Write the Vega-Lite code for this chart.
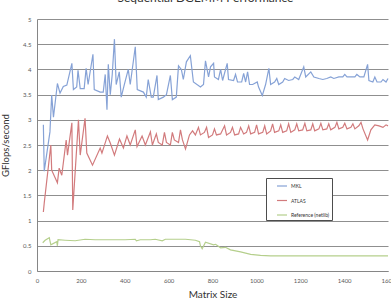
{
  "$schema": "https://vega.github.io/schema/vega-lite/v6.json",
  "width": 351,
  "height": 252,
  "autosize": {"type": "none"},
  "padding": {"left": 37, "top": 19, "right": 3, "bottom": 31},
  "background": "white",
  "config": {
    "view": {"stroke": null},
    "font": "Lato"
  },
  "title": {
    "text": "Sequential DGEMM Performance",
    "frame": "group",
    "anchor": "middle",
    "orient": "top",
    "offset": 2,
    "baseline": "alphabetic",
    "fontSize": 12,
    "font": "Lato",
    "fontWeight": "normal",
    "color": "#333333",
    "dx": -7
  },
  "data": {
    "values": [
      {"size": 29, "gflops": 2.9, "series": "MKL"},
      {"size": 33, "gflops": 1.98, "series": "MKL"},
      {"size": 59, "gflops": 2.76, "series": "MKL"},
      {"size": 67, "gflops": 3.49, "series": "MKL"},
      {"size": 75, "gflops": 3.05, "series": "MKL"},
      {"size": 93, "gflops": 3.72, "series": "MKL"},
      {"size": 105, "gflops": 3.53, "series": "MKL"},
      {"size": 120, "gflops": 3.66, "series": "MKL"},
      {"size": 136, "gflops": 3.69, "series": "MKL"},
      {"size": 159, "gflops": 4.12, "series": "MKL"},
      {"size": 166, "gflops": 3.6, "series": "MKL"},
      {"size": 181, "gflops": 3.65, "series": "MKL"},
      {"size": 187, "gflops": 3.98, "series": "MKL"},
      {"size": 197, "gflops": 3.62, "series": "MKL"},
      {"size": 215, "gflops": 3.62, "series": "MKL"},
      {"size": 224, "gflops": 4.02, "series": "MKL"},
      {"size": 233, "gflops": 3.7, "series": "MKL"},
      {"size": 255, "gflops": 4.3, "series": "MKL"},
      {"size": 261, "gflops": 3.6, "series": "MKL"},
      {"size": 288, "gflops": 3.55, "series": "MKL"},
      {"size": 302, "gflops": 3.55, "series": "MKL"},
      {"size": 311, "gflops": 3.9, "series": "MKL"},
      {"size": 319, "gflops": 3.2, "series": "MKL"},
      {"size": 325, "gflops": 4.1, "series": "MKL"},
      {"size": 334, "gflops": 3.5, "series": "MKL"},
      {"size": 343, "gflops": 3.9, "series": "MKL"},
      {"size": 353, "gflops": 4.6, "series": "MKL"},
      {"size": 361, "gflops": 3.7, "series": "MKL"},
      {"size": 375, "gflops": 3.95, "series": "MKL"},
      {"size": 384, "gflops": 3.45, "series": "MKL"},
      {"size": 398, "gflops": 3.7, "series": "MKL"},
      {"size": 416, "gflops": 4.0, "series": "MKL"},
      {"size": 425, "gflops": 3.7, "series": "MKL"},
      {"size": 448, "gflops": 4.45, "series": "MKL"},
      {"size": 457, "gflops": 3.6, "series": "MKL"},
      {"size": 485, "gflops": 3.55, "series": "MKL"},
      {"size": 498, "gflops": 3.45, "series": "MKL"},
      {"size": 507, "gflops": 3.8, "series": "MKL"},
      {"size": 521, "gflops": 3.45, "series": "MKL"},
      {"size": 530, "gflops": 3.45, "series": "MKL"},
      {"size": 547, "gflops": 3.88, "series": "MKL"},
      {"size": 553, "gflops": 3.4, "series": "MKL"},
      {"size": 576, "gflops": 3.45, "series": "MKL"},
      {"size": 590, "gflops": 3.5, "series": "MKL"},
      {"size": 608, "gflops": 3.88, "series": "MKL"},
      {"size": 617, "gflops": 3.4, "series": "MKL"},
      {"size": 635, "gflops": 3.45, "series": "MKL"},
      {"size": 645, "gflops": 4.07, "series": "MKL"},
      {"size": 658, "gflops": 4.0, "series": "MKL"},
      {"size": 667, "gflops": 3.8, "series": "MKL"},
      {"size": 681, "gflops": 4.15, "series": "MKL"},
      {"size": 699, "gflops": 4.27, "series": "MKL"},
      {"size": 713, "gflops": 3.75, "series": "MKL"},
      {"size": 745, "gflops": 3.65, "series": "MKL"},
      {"size": 759, "gflops": 3.7, "series": "MKL"},
      {"size": 768, "gflops": 4.17, "series": "MKL"},
      {"size": 782, "gflops": 3.85, "series": "MKL"},
      {"size": 791, "gflops": 4.05, "series": "MKL"},
      {"size": 805, "gflops": 4.12, "series": "MKL"},
      {"size": 809, "gflops": 3.85, "series": "MKL"},
      {"size": 827, "gflops": 3.8, "series": "MKL"},
      {"size": 837, "gflops": 4.0, "series": "MKL"},
      {"size": 846, "gflops": 3.78, "series": "MKL"},
      {"size": 867, "gflops": 4.12, "series": "MKL"},
      {"size": 873, "gflops": 3.8, "series": "MKL"},
      {"size": 896, "gflops": 3.78, "series": "MKL"},
      {"size": 905, "gflops": 3.9, "series": "MKL"},
      {"size": 914, "gflops": 3.75, "series": "MKL"},
      {"size": 933, "gflops": 3.75, "series": "MKL"},
      {"size": 942, "gflops": 3.92, "series": "MKL"},
      {"size": 951, "gflops": 3.75, "series": "MKL"},
      {"size": 960, "gflops": 3.95, "series": "MKL"},
      {"size": 969, "gflops": 3.7, "series": "MKL"},
      {"size": 983, "gflops": 3.7, "series": "MKL"},
      {"size": 1004, "gflops": 3.75, "series": "MKL"},
      {"size": 1010, "gflops": 3.65, "series": "MKL"},
      {"size": 1027, "gflops": 3.48, "series": "MKL"},
      {"size": 1042, "gflops": 3.7, "series": "MKL"},
      {"size": 1057, "gflops": 4.02, "series": "MKL"},
      {"size": 1065, "gflops": 3.7, "series": "MKL"},
      {"size": 1083, "gflops": 3.75, "series": "MKL"},
      {"size": 1093, "gflops": 3.82, "series": "MKL"},
      {"size": 1102, "gflops": 3.7, "series": "MKL"},
      {"size": 1120, "gflops": 3.75, "series": "MKL"},
      {"size": 1129, "gflops": 3.82, "series": "MKL"},
      {"size": 1147, "gflops": 3.78, "series": "MKL"},
      {"size": 1166, "gflops": 3.8, "series": "MKL"},
      {"size": 1175, "gflops": 3.85, "series": "MKL"},
      {"size": 1193, "gflops": 3.8, "series": "MKL"},
      {"size": 1216, "gflops": 4.05, "series": "MKL"},
      {"size": 1225, "gflops": 3.85, "series": "MKL"},
      {"size": 1248, "gflops": 3.95, "series": "MKL"},
      {"size": 1262, "gflops": 3.85, "series": "MKL"},
      {"size": 1285, "gflops": 3.82, "series": "MKL"},
      {"size": 1303, "gflops": 3.8, "series": "MKL"},
      {"size": 1321, "gflops": 3.82, "series": "MKL"},
      {"size": 1339, "gflops": 3.85, "series": "MKL"},
      {"size": 1353, "gflops": 3.82, "series": "MKL"},
      {"size": 1376, "gflops": 3.85, "series": "MKL"},
      {"size": 1394, "gflops": 3.85, "series": "MKL"},
      {"size": 1403, "gflops": 3.9, "series": "MKL"},
      {"size": 1413, "gflops": 3.85, "series": "MKL"},
      {"size": 1431, "gflops": 3.85, "series": "MKL"},
      {"size": 1449, "gflops": 3.85, "series": "MKL"},
      {"size": 1458, "gflops": 3.9, "series": "MKL"},
      {"size": 1472, "gflops": 3.85, "series": "MKL"},
      {"size": 1490, "gflops": 3.85, "series": "MKL"},
      {"size": 1507, "gflops": 4.1, "series": "MKL"},
      {"size": 1513, "gflops": 3.78, "series": "MKL"},
      {"size": 1531, "gflops": 3.75, "series": "MKL"},
      {"size": 1540, "gflops": 3.85, "series": "MKL"},
      {"size": 1550, "gflops": 3.75, "series": "MKL"},
      {"size": 1568, "gflops": 3.75, "series": "MKL"},
      {"size": 1577, "gflops": 3.8, "series": "MKL"},
      {"size": 1591, "gflops": 3.75, "series": "MKL"},
      {"size": 1600, "gflops": 3.82, "series": "MKL"},

      {"size": 29, "gflops": 1.17, "series": "ATLAS"},
      {"size": 33, "gflops": 1.35, "series": "ATLAS"},
      {"size": 63, "gflops": 2.5, "series": "ATLAS"},
      {"size": 67, "gflops": 2.0, "series": "ATLAS"},
      {"size": 93, "gflops": 1.75, "series": "ATLAS"},
      {"size": 101, "gflops": 2.04, "series": "ATLAS"},
      {"size": 113, "gflops": 1.9, "series": "ATLAS"},
      {"size": 133, "gflops": 2.6, "series": "ATLAS"},
      {"size": 139, "gflops": 2.3, "series": "ATLAS"},
      {"size": 159, "gflops": 2.94, "series": "ATLAS"},
      {"size": 163, "gflops": 1.21, "series": "ATLAS"},
      {"size": 189, "gflops": 3.0, "series": "ATLAS"},
      {"size": 197, "gflops": 2.3, "series": "ATLAS"},
      {"size": 219, "gflops": 3.03, "series": "ATLAS"},
      {"size": 227, "gflops": 2.34, "series": "ATLAS"},
      {"size": 253, "gflops": 2.1, "series": "ATLAS"},
      {"size": 288, "gflops": 2.44, "series": "ATLAS"},
      {"size": 296, "gflops": 2.34, "series": "ATLAS"},
      {"size": 321, "gflops": 2.68, "series": "ATLAS"},
      {"size": 334, "gflops": 2.54, "series": "ATLAS"},
      {"size": 353, "gflops": 2.3, "series": "ATLAS"},
      {"size": 376, "gflops": 2.62, "series": "ATLAS"},
      {"size": 394, "gflops": 2.44, "series": "ATLAS"},
      {"size": 410, "gflops": 2.68, "series": "ATLAS"},
      {"size": 425, "gflops": 2.5, "series": "ATLAS"},
      {"size": 448, "gflops": 2.8, "series": "ATLAS"},
      {"size": 456, "gflops": 2.47, "series": "ATLAS"},
      {"size": 479, "gflops": 2.68, "series": "ATLAS"},
      {"size": 494, "gflops": 2.5, "series": "ATLAS"},
      {"size": 517, "gflops": 2.76, "series": "ATLAS"},
      {"size": 526, "gflops": 2.5, "series": "ATLAS"},
      {"size": 544, "gflops": 2.72, "series": "ATLAS"},
      {"size": 553, "gflops": 2.55, "series": "ATLAS"},
      {"size": 571, "gflops": 2.5, "series": "ATLAS"},
      {"size": 581, "gflops": 2.75, "series": "ATLAS"},
      {"size": 590, "gflops": 2.55, "series": "ATLAS"},
      {"size": 608, "gflops": 2.5, "series": "ATLAS"},
      {"size": 617, "gflops": 2.75, "series": "ATLAS"},
      {"size": 626, "gflops": 2.6, "series": "ATLAS"},
      {"size": 645, "gflops": 2.55, "series": "ATLAS"},
      {"size": 654, "gflops": 2.8, "series": "ATLAS"},
      {"size": 663, "gflops": 2.6, "series": "ATLAS"},
      {"size": 677, "gflops": 2.42, "series": "ATLAS"},
      {"size": 695, "gflops": 2.7, "series": "ATLAS"},
      {"size": 709, "gflops": 2.78, "series": "ATLAS"},
      {"size": 722, "gflops": 2.7, "series": "ATLAS"},
      {"size": 736, "gflops": 2.85, "series": "ATLAS"},
      {"size": 745, "gflops": 2.7, "series": "ATLAS"},
      {"size": 763, "gflops": 2.75, "series": "ATLAS"},
      {"size": 773, "gflops": 2.85, "series": "ATLAS"},
      {"size": 782, "gflops": 2.65, "series": "ATLAS"},
      {"size": 800, "gflops": 2.7, "series": "ATLAS"},
      {"size": 809, "gflops": 2.82, "series": "ATLAS"},
      {"size": 818, "gflops": 2.7, "series": "ATLAS"},
      {"size": 837, "gflops": 2.72, "series": "ATLAS"},
      {"size": 855, "gflops": 2.88, "series": "ATLAS"},
      {"size": 864, "gflops": 2.7, "series": "ATLAS"},
      {"size": 882, "gflops": 2.75, "series": "ATLAS"},
      {"size": 891, "gflops": 2.85, "series": "ATLAS"},
      {"size": 901, "gflops": 2.7, "series": "ATLAS"},
      {"size": 919, "gflops": 2.72, "series": "ATLAS"},
      {"size": 928, "gflops": 2.85, "series": "ATLAS"},
      {"size": 942, "gflops": 2.72, "series": "ATLAS"},
      {"size": 955, "gflops": 2.75, "series": "ATLAS"},
      {"size": 965, "gflops": 2.88, "series": "ATLAS"},
      {"size": 974, "gflops": 2.72, "series": "ATLAS"},
      {"size": 992, "gflops": 2.75, "series": "ATLAS"},
      {"size": 1001, "gflops": 2.9, "series": "ATLAS"},
      {"size": 1010, "gflops": 2.72, "series": "ATLAS"},
      {"size": 1029, "gflops": 2.75, "series": "ATLAS"},
      {"size": 1038, "gflops": 2.88, "series": "ATLAS"},
      {"size": 1047, "gflops": 2.72, "series": "ATLAS"},
      {"size": 1065, "gflops": 2.78, "series": "ATLAS"},
      {"size": 1074, "gflops": 2.92, "series": "ATLAS"},
      {"size": 1083, "gflops": 2.75, "series": "ATLAS"},
      {"size": 1102, "gflops": 2.78, "series": "ATLAS"},
      {"size": 1111, "gflops": 2.9, "series": "ATLAS"},
      {"size": 1120, "gflops": 2.75, "series": "ATLAS"},
      {"size": 1138, "gflops": 2.78, "series": "ATLAS"},
      {"size": 1147, "gflops": 2.92, "series": "ATLAS"},
      {"size": 1157, "gflops": 2.75, "series": "ATLAS"},
      {"size": 1175, "gflops": 2.8, "series": "ATLAS"},
      {"size": 1184, "gflops": 2.92, "series": "ATLAS"},
      {"size": 1193, "gflops": 2.78, "series": "ATLAS"},
      {"size": 1211, "gflops": 2.8, "series": "ATLAS"},
      {"size": 1221, "gflops": 2.93, "series": "ATLAS"},
      {"size": 1230, "gflops": 2.78, "series": "ATLAS"},
      {"size": 1248, "gflops": 2.8, "series": "ATLAS"},
      {"size": 1257, "gflops": 2.92, "series": "ATLAS"},
      {"size": 1266, "gflops": 2.78, "series": "ATLAS"},
      {"size": 1285, "gflops": 2.82, "series": "ATLAS"},
      {"size": 1294, "gflops": 2.93, "series": "ATLAS"},
      {"size": 1303, "gflops": 2.8, "series": "ATLAS"},
      {"size": 1321, "gflops": 2.82, "series": "ATLAS"},
      {"size": 1330, "gflops": 2.92, "series": "ATLAS"},
      {"size": 1339, "gflops": 2.8, "series": "ATLAS"},
      {"size": 1358, "gflops": 2.85, "series": "ATLAS"},
      {"size": 1367, "gflops": 2.95, "series": "ATLAS"},
      {"size": 1376, "gflops": 2.82, "series": "ATLAS"},
      {"size": 1394, "gflops": 2.85, "series": "ATLAS"},
      {"size": 1403, "gflops": 2.93, "series": "ATLAS"},
      {"size": 1413, "gflops": 2.82, "series": "ATLAS"},
      {"size": 1431, "gflops": 2.85, "series": "ATLAS"},
      {"size": 1440, "gflops": 2.92, "series": "ATLAS"},
      {"size": 1449, "gflops": 2.82, "series": "ATLAS"},
      {"size": 1467, "gflops": 2.88, "series": "ATLAS"},
      {"size": 1477, "gflops": 2.95, "series": "ATLAS"},
      {"size": 1486, "gflops": 2.82, "series": "ATLAS"},
      {"size": 1507, "gflops": 2.6, "series": "ATLAS"},
      {"size": 1522, "gflops": 2.8, "series": "ATLAS"},
      {"size": 1540, "gflops": 2.9, "series": "ATLAS"},
      {"size": 1559, "gflops": 2.88, "series": "ATLAS"},
      {"size": 1577, "gflops": 2.85, "series": "ATLAS"},
      {"size": 1591, "gflops": 2.9, "series": "ATLAS"},
      {"size": 1600, "gflops": 2.88, "series": "ATLAS"},

      {"size": 26, "gflops": 0.56, "series": "Reference (netlib)"},
      {"size": 37, "gflops": 0.61, "series": "Reference (netlib)"},
      {"size": 56, "gflops": 0.66, "series": "Reference (netlib)"},
      {"size": 63, "gflops": 0.52, "series": "Reference (netlib)"},
      {"size": 90, "gflops": 0.58, "series": "Reference (netlib)"},
      {"size": 93, "gflops": 0.5, "series": "Reference (netlib)"},
      {"size": 96, "gflops": 0.62, "series": "Reference (netlib)"},
      {"size": 128, "gflops": 0.61, "series": "Reference (netlib)"},
      {"size": 174, "gflops": 0.6, "series": "Reference (netlib)"},
      {"size": 219, "gflops": 0.63, "series": "Reference (netlib)"},
      {"size": 265, "gflops": 0.62, "series": "Reference (netlib)"},
      {"size": 334, "gflops": 0.62, "series": "Reference (netlib)"},
      {"size": 402, "gflops": 0.62, "series": "Reference (netlib)"},
      {"size": 448, "gflops": 0.63, "series": "Reference (netlib)"},
      {"size": 453, "gflops": 0.6, "series": "Reference (netlib)"},
      {"size": 471, "gflops": 0.62, "series": "Reference (netlib)"},
      {"size": 517, "gflops": 0.62, "series": "Reference (netlib)"},
      {"size": 539, "gflops": 0.63, "series": "Reference (netlib)"},
      {"size": 571, "gflops": 0.6, "series": "Reference (netlib)"},
      {"size": 585, "gflops": 0.63, "series": "Reference (netlib)"},
      {"size": 631, "gflops": 0.63, "series": "Reference (netlib)"},
      {"size": 677, "gflops": 0.63, "series": "Reference (netlib)"},
      {"size": 722, "gflops": 0.61, "series": "Reference (netlib)"},
      {"size": 741, "gflops": 0.58, "series": "Reference (netlib)"},
      {"size": 745, "gflops": 0.5, "series": "Reference (netlib)"},
      {"size": 753, "gflops": 0.44, "series": "Reference (netlib)"},
      {"size": 768, "gflops": 0.57, "series": "Reference (netlib)"},
      {"size": 805, "gflops": 0.52, "series": "Reference (netlib)"},
      {"size": 814, "gflops": 0.53, "series": "Reference (netlib)"},
      {"size": 837, "gflops": 0.46, "series": "Reference (netlib)"},
      {"size": 859, "gflops": 0.47, "series": "Reference (netlib)"},
      {"size": 882, "gflops": 0.42, "series": "Reference (netlib)"},
      {"size": 928, "gflops": 0.38, "series": "Reference (netlib)"},
      {"size": 974, "gflops": 0.33, "series": "Reference (netlib)"},
      {"size": 1019, "gflops": 0.31, "series": "Reference (netlib)"},
      {"size": 1065, "gflops": 0.3, "series": "Reference (netlib)"},
      {"size": 1156, "gflops": 0.3, "series": "Reference (netlib)"},
      {"size": 1294, "gflops": 0.3, "series": "Reference (netlib)"},
      {"size": 1431, "gflops": 0.3, "series": "Reference (netlib)"},
      {"size": 1600, "gflops": 0.3, "series": "Reference (netlib)"}
    ]
  },
  "mark": {"type": "line", "strokeWidth": 1.2, "interpolate": "linear"},
  "encoding": {
    "x": {
      "field": "size",
      "type": "quantitative",
      "scale": {"domain": [0, 1600], "nice": false, "zero": false},
      "axis": {
        "values": [0, 200, 400, 600, 800, 1000, 1200, 1400, 1600],
        "format": "d",
        "grid": false,
        "domainColor": "#868686",
        "ticks": false,
        "labelFontSize": 6,
        "labelColor": "#595959",
        "labelPadding": 6,
        "labelFlush": false,
        "labelOverlap": false,
        "title": "Matrix Size",
        "titleFontSize": 10,
        "titleFontWeight": "normal",
        "titleColor": "#333333",
        "titlePadding": 6
      }
    },
    "y": {
      "field": "gflops",
      "type": "quantitative",
      "scale": {"domain": [0, 5], "nice": false},
      "axis": {
        "values": [0, 0.5, 1, 1.5, 2, 2.5, 3, 3.5, 4, 4.5, 5],
        "format": "~g",
        "grid": true,
        "gridColor": "#8f8f8f",
        "domainColor": "#868686",
        "ticks": false,
        "labelFontSize": 6,
        "labelColor": "#595959",
        "labelPadding": 6,
        "title": "GFlops/second",
        "titleFontSize": 9.5,
        "titleFontWeight": "normal",
        "titleColor": "#333333",
        "titlePadding": 12
      }
    },
    "color": {
      "field": "series",
      "type": "nominal",
      "sort": ["MKL", "ATLAS", "Reference (netlib)"],
      "scale": {
        "domain": ["MKL", "ATLAS", "Reference (netlib)"],
        "range": ["#86a2d6", "#d27b7d", "#b5cf8c"]
      },
      "legend": {
        "orient": "none",
        "legendX": 229,
        "legendY": 159,
        "title": null,
        "fillColor": "white",
        "strokeColor": "#4d4d4d",
        "padding": 2,
        "symbolType": "stroke",
        "symbolSize": 100,
        "symbolStrokeWidth": 1.2,
        "symbolOffset": 8,
        "labelFontSize": 5,
        "labelColor": "#333333",
        "labelOffset": 3,
        "rowPadding": 5.5
      }
    }
  }
}
